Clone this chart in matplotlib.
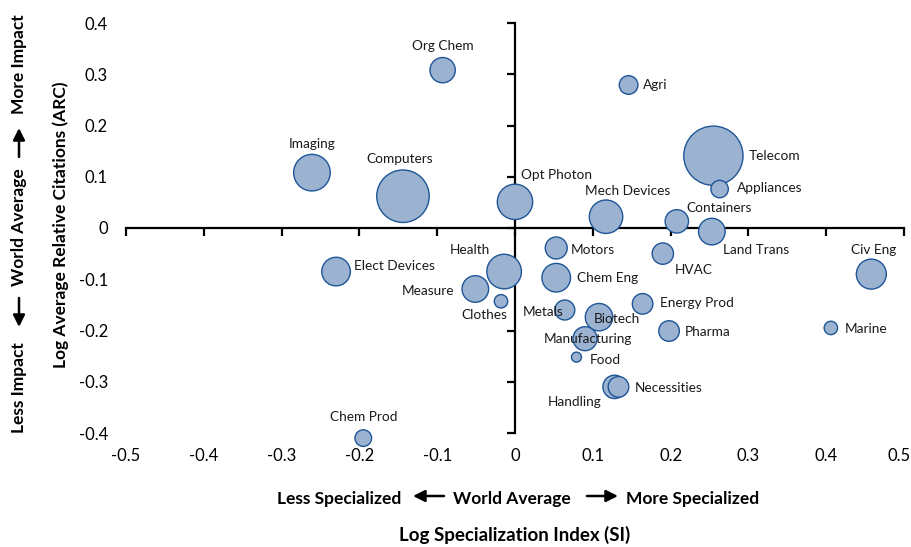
import matplotlib
matplotlib.use("Agg")
import matplotlib.pyplot as plt
import matplotlib.transforms as mt
import numpy as np

# technology fields: log specialization index (SI), log avg relative citations (ARC), patent volume
fields = ["Telecom", "Org Chem", "Agri", "Imaging", "Computers", "Appliances", "Opt Photon",
          "Mech Devices", "Containers", "Land Trans", "Motors", "HVAC", "Civ Eng", "Health",
          "Elect Devices", "Chem Eng", "Measure", "Clothes", "Metals", "Biotech", "Energy Prod",
          "Pharma", "Marine", "Manufacturing", "Food", "Handling", "Necessities", "Chem Prod"]
si = [0.255, -0.093, 0.146, -0.261, -0.144, 0.263, 0.000,
      0.117, 0.208, 0.253, 0.053, 0.190, 0.458, -0.014,
      -0.230, 0.053, -0.051, -0.018, 0.064, 0.108, 0.164,
      0.198, 0.406, 0.090, 0.079, 0.128, 0.133, -0.195]
arc = [0.141, 0.308, 0.279, 0.108, 0.062, 0.076, 0.051,
       0.022, 0.013, -0.007, -0.039, -0.050, -0.090, -0.085,
       -0.085, -0.097, -0.119, -0.143, -0.160, -0.174, -0.148,
       -0.201, -0.195, -0.216, -0.252, -0.310, -0.310, -0.410]
volume = [880, 160, 87, 335, 690, 76, 313,
          280, 137, 177, 121, 114, 225, 300,
          205, 205, 177, 45, 100, 188, 106,
          106, 45, 144, 25, 137, 106, 69]

xticks = [-0.5, -0.4, -0.3, -0.2, -0.1, 0, 0.1, 0.2, 0.3, 0.4, 0.5]
yticks = [-0.4, -0.3, -0.2, -0.1, 0, 0.1, 0.2, 0.3, 0.4]

# label placement (pixel offsets from bubble centre, alignment)
label_pos = {
    "Telecom": (35, 0, "left"), "Org Chem": (0, 24, "center"), "Agri": (14, 0, "left"),
    "Imaging": (0, 29, "center"), "Computers": (-3, 37, "center"), "Appliances": (17, 1, "left"),
    "Opt Photon": (6, 27, "left"), "Mech Devices": (22, 26, "center"), "Containers": (10, 13, "left"),
    "Land Trans": (11, -18, "left"), "Motors": (15, -2, "left"), "HVAC": (12, -16, "left"),
    "Civ Eng": (2, 24, "center"), "Health": (-14, 22, "right"), "Elect Devices": (18, 6, "left"),
    "Chem Eng": (21, 0, "left"), "Measure": (-21, -2, "right"), "Clothes": (-17, -14, "center"),
    "Metals": (-1, -2, "right"), "Biotech": (-5, -2, "left"), "Energy Prod": (17, 1, "left"),
    "Pharma": (16, -1, "left"), "Marine": (14, -1, "left"), "Manufacturing": (3, 0, "center"),
    "Food": (13, -3, "left"), "Handling": (-40, -15, "center"), "Necessities": (16, -1, "left"),
    "Chem Prod": (0, 21, "center"),
}

plt.rcParams["font.family"] = ["Lato", "DejaVu Sans"]
fill = "#9bb3d1"
edge = "#1f5597"
W, H = 911, 547

fig = plt.figure(figsize=(W / 100, H / 100), dpi=100)
pos = [126 / W, 1 - 433 / H, 778 / W, 410 / H]

# background axes carrying the tick labels at the outer edges
axl = fig.add_axes(pos)
axl.set_xlim(-0.5, 0.5)
axl.set_ylim(-0.4, 0.4)
for s in axl.spines.values():
    s.set_visible(False)
axl.set_xticks(xticks)
axl.set_yticks(yticks)
axl.set_xticklabels(["0" if t == 0 else f"{t:g}" for t in xticks], fontsize=12)
axl.set_yticklabels(["0" if t == 0 else f"{t:g}" for t in yticks], fontsize=12)
axl.tick_params(axis="x", length=0, pad=11)
axl.tick_params(axis="y", length=0, pad=13)
last = axl.get_xticklabels()[-1]
last.set_transform(last.get_transform() + mt.ScaledTranslation(-5 / 100, 0, fig.dpi_scale_trans))

# crossing axes at zero
ax = fig.add_axes(pos)
ax.patch.set_visible(False)
ax.set_xlim(-0.5, 0.5)
ax.set_ylim(-0.4, 0.4)
ax.spines["left"].set_position("zero")
ax.spines["bottom"].set_position("zero")
ax.spines["top"].set_visible(False)
ax.spines["right"].set_visible(False)
for k in ("left", "bottom"):
    ax.spines[k].set_linewidth(1.6)
ax.set_xticks(xticks)
ax.set_yticks(yticks)
ax.tick_params(direction="out", length=6, width=1.6, labelbottom=False, labelleft=False)

ax.scatter(si, arc, s=np.array(volume) * 2.07, color=fill, edgecolors=edge,
           linewidths=1.0, zorder=3, clip_on=False)

for name, x, y in zip(fields, si, arc):
    dx, dy, ha = label_pos[name]
    ax.annotate(name, (x, y), xytext=(dx, dy), textcoords="offset pixels",
                ha=ha, va="center", fontsize=9.8, color="#1a1a1a", zorder=4,
                annotation_clip=False)

# axis titles (positions in figure pixels, top-left origin)
bold = dict(fontsize=12.5, fontweight="bold", color="black")


def ftext(px, py, s, **kw):
    fig.text(px / W, 1 - py / H, s, **kw)


def farrow(x0, y0, x1, y1):
    fig.add_artist(matplotlib.patches.FancyArrowPatch(
        (x0 / W, 1 - y0 / H), (x1 / W, 1 - y1 / H), transform=fig.transFigure,
        arrowstyle="-|>,head_length=0.5,head_width=0.25", mutation_scale=14,
        lw=1.8, color="black", shrinkA=0, shrinkB=0))


ftext(61, 225, "Log Average Relative Citations (ARC)", rotation=90,
      ha="center", va="center", **bold)
ftext(19, 433, "Less Impact", rotation=90, ha="center", va="bottom", **bold)
farrow(19, 298, 19, 327)
ftext(19, 227, "World Average", rotation=90, ha="center", va="center", **bold)
farrow(19, 157, 19, 128)
ftext(19, 14, "More Impact", rotation=90, ha="center", va="top", **bold)

ftext(401, 499, "Less Specialized", ha="right", va="center", **bold)
farrow(444, 496, 413, 496)
ftext(512, 499, "World Average", ha="center", va="center", **bold)
farrow(587, 496, 618, 496)
ftext(626, 499, "More Specialized", ha="left", va="center", **bold)

ftext(515, 535, "Log Specialization Index (SI)", ha="center", va="center",
      fontsize=13.5, fontweight="bold", color="black")

fig.savefig("out.png", dpi=100)
